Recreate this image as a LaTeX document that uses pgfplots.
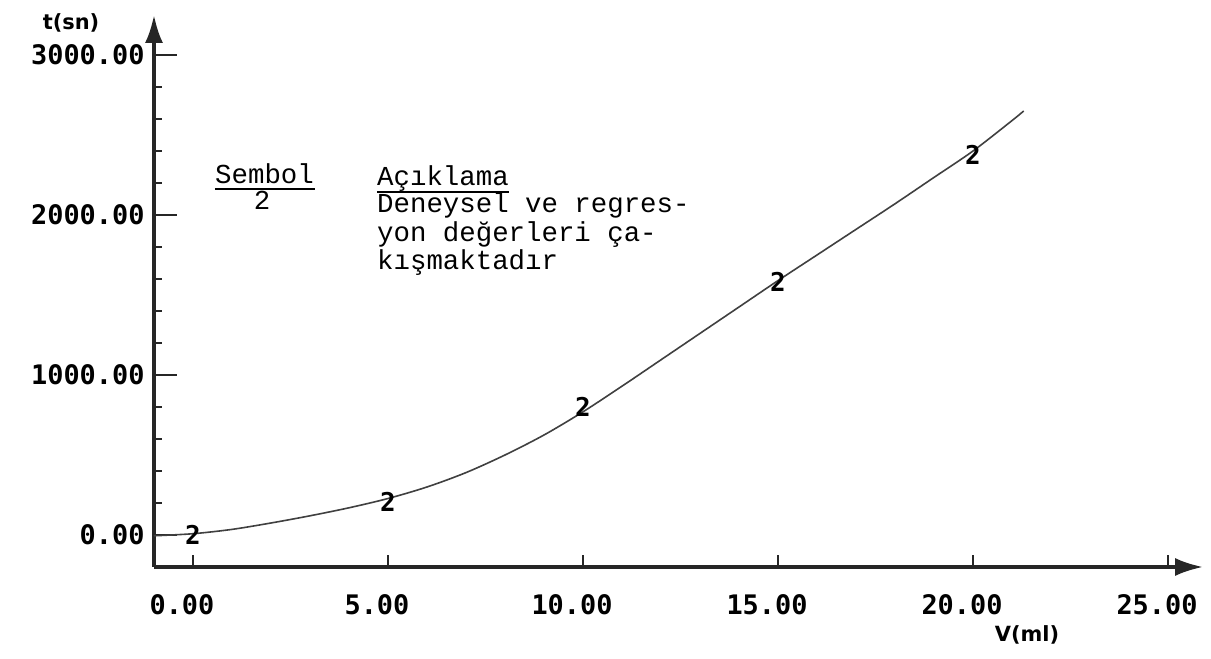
\documentclass[border=0pt]{standalone}
\usepackage{pgfplots}
\pgfplotsset{compat=1.18}
\usepackage{fontspec}
\setmainfont{Liberation Mono}
\newfontfamily\tickfont{DejaVu Sans Mono}
\newfontfamily\lblfont{DejaVu Sans}
\usetikzlibrary{arrows.meta}

\begin{document}
\begin{tikzpicture}[x=1bp,y=1bp]
\useasboundingbox (-154,-92) rectangle (1057,567);
\begin{axis}[
  at={(0,0)}, anchor=south west,
  x=39bp, y=0.16bp,
  xmin=-1, xmax=25.9, ymin=-200, ymax=3250,
  axis lines=left,
  every outer x axis line/.append style={line width=3.4bp, black!85, -{Latex[length=28bp,width=18bp]}},
  every outer y axis line/.append style={line width=3.4bp, black!85, -{Latex[length=28bp,width=18bp]}},
  xtick={0,5,10,15,20,25},
  xticklabels={0.00,5.00,10.00,15.00,20.00,25.00},
  ytick={0,1000,2000,3000},
  yticklabels={0.00,1000.00,2000.00,3000.00},
  minor ytick={200,400,600,800,1200,1400,1600,1800,2200,2400,2600,2800},
  tick align=inside,
  major tick length=23bp, minor tick length=8bp,
  tick style={line width=2.2bp, black!85},
  xtick style={/pgfplots/major tick length=12bp},
  x tick label style={font=\tickfont\bfseries\fontsize{27}{27}\selectfont, xshift=-11bp, yshift=-24bp},
  y tick label style={font=\tickfont\bfseries\fontsize{27}{27}\selectfont, xshift=-6bp},
  clip=false,
]
\addplot[smooth, gray!50!black, line width=1.6bp] coordinates {
  (-1,-5) (0,8) (1,35) (2,75) (3,120) (4,170) (5,228) (6,300) (7,390)
  (8,500) (9,625) (10,770) (11,930) (12,1095) (13,1260) (14,1425)
  (15,1590) (16,1750) (17,1910) (18,2070) (19,2235) (20,2400) (21,2590) (21.3,2650)
};
\addplot[only marks, mark=text, text mark={2}, text mark as node=true,
  text mark style={font=\tickfont\bfseries\fontsize{26}{26}\selectfont, inner sep=0pt}]
  coordinates {(0,0) (5,206) (10,800) (15,1581) (20,2375)};
\end{axis}
% axis titles
\node[font=\lblfont\bfseries\fontsize{21}{21}\selectfont, inner sep=0pt] at (-83,544) {t(sn)};
\node[font=\lblfont\bfseries\fontsize{21}{21}\selectfont, inner sep=0pt] at (873,-68) {V(ml)};
% legend text
\begin{scope}[every node/.style={font=\fontsize{27.5}{28}\selectfont, inner sep=0pt}]
\node[anchor=base west] at (61,383) {Sembol};
\draw[line width=1.8bp] (61,378) -- (161,378);
\node[anchor=base] at (108,357) {2};
\node[anchor=base west] at (223,381) {Açıklama};
\draw[line width=1.8bp] (223,375) -- (355,375);
\node[anchor=base west] at (223,354) {Deneysel ve regres-};
\node[anchor=base west] at (223,325.5) {yon değerleri ça-};
\node[anchor=base west] at (223,297) {kışmaktadır};
\end{scope}
\end{tikzpicture}
\end{document}
